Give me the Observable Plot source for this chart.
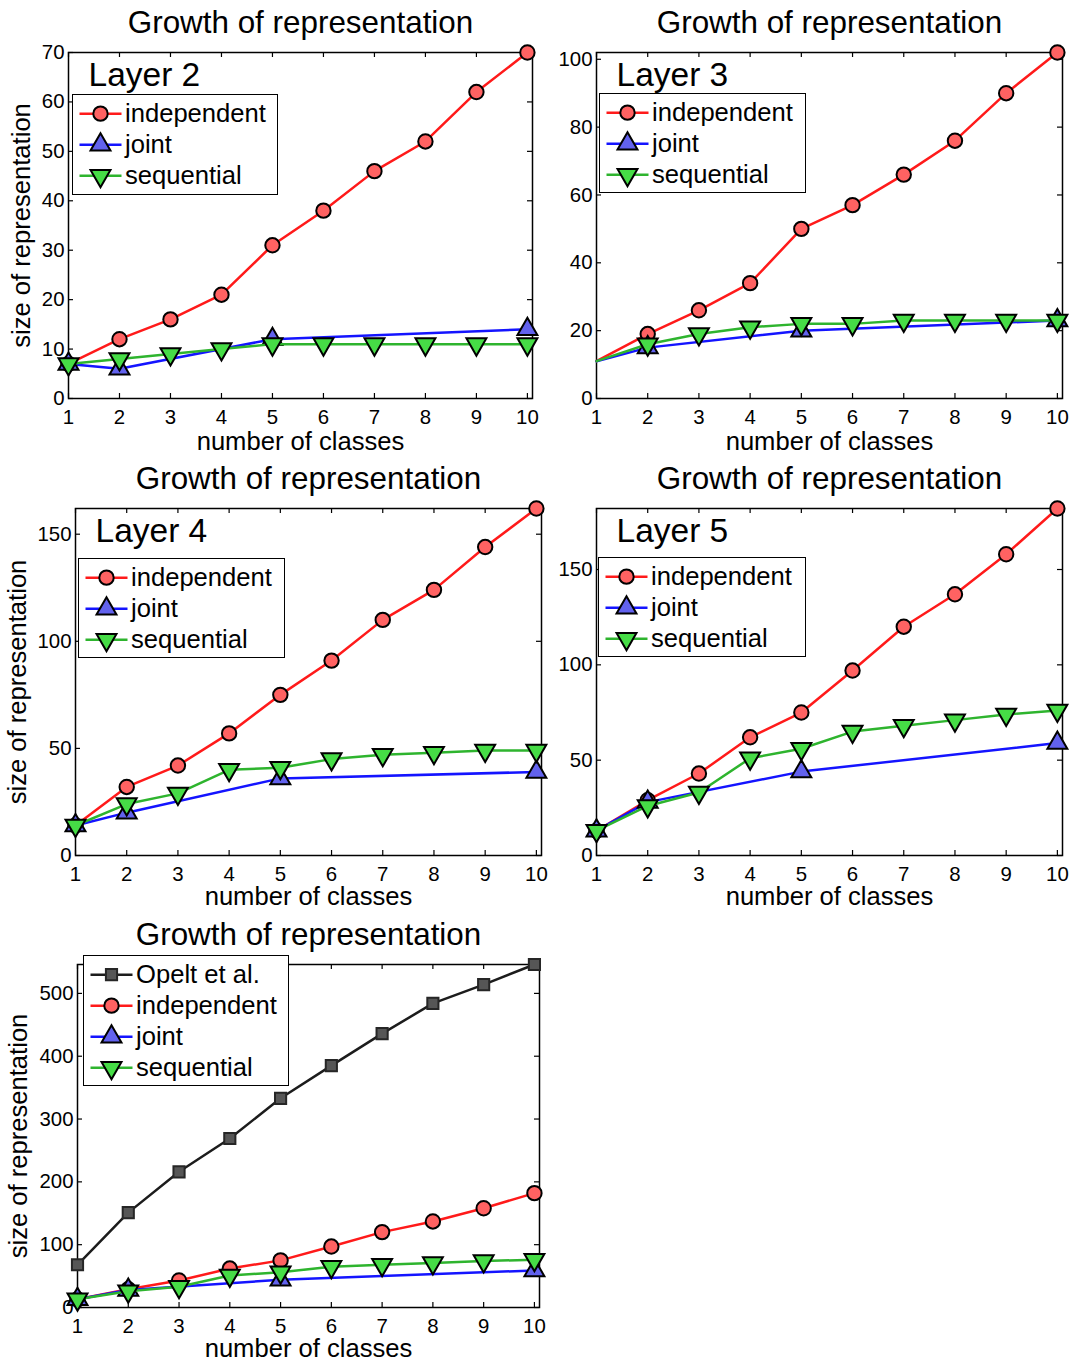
<!DOCTYPE html>
<html>
<head>
<meta charset="utf-8">
<script src="https://cdn.jsdelivr.net/npm/d3@7"></script>
<script src="https://cdn.jsdelivr.net/npm/@observablehq/plot@0.6"></script>
<style>
  body { margin: 0; background: #fff; }
  #figure { position: relative; width: 1071px; height: 1363px; font-family: "Liberation Sans", Arial, Helvetica, sans-serif; color: #000; }
  .panel { position: absolute; }
  .panel svg { overflow: visible; display: block; }
  .legend { position: absolute; box-sizing: border-box; border: 1.5px solid #000; background: #fff; padding-top: 2.5px; }
  .legend .row { display: flex; align-items: center; height: 31.3px; }
  .legend .row svg { flex: none; display: block; }
  .legend .row span { font-size: 25.6px; line-height: 31.3px; white-space: nowrap; }
</style>
</head>
<body>
<div id="figure"></div>
<script>
// x values: number of object classes
const classes = [1, 2, 3, 4, 5, 6, 7, 8, 9, 10];
// the joint model was only trained at these class counts
const jointClasses = [1, 2, 5, 10];

// Layer 2
const layer2Independent = [7, 12, 16, 21, 31, 38, 46, 52, 62, 70];
const layer2Joint = [7, 6, 12, 14];
const layer2Sequential = [7, 8, 9, 10, 11, 11, 11, 11, 11, 11];
// Layer 3
const layer3Independent = [11, 19, 26, 34, 50, 57, 66, 76, 90, 102];
const layer3Joint = [11, 15, 20, 23];
const layer3Sequential = [11, 16, 19, 21, 22, 22, 23, 23, 23, 23];
// Layer 4
const layer4Independent = [14, 32, 42, 57, 75, 91, 110, 124, 144, 162];
const layer4Joint = [14, 20, 36, 39];
const layer4Sequential = [14, 24, 29, 40, 41, 45, 47, 48, 49, 49];
// Layer 5 (top of the hierarchy)
const layer5Independent = [13, 29, 43, 62, 75, 97, 120, 137, 158, 182];
const layer5Joint = [13, 28, 44, 59];
const layer5Sequential = [13, 26, 33, 51, 56, 65, 68, 71, 74, 76];
// Opelt et al. boundary-fragment codebook size
const opeltEtAl = [68, 151, 216, 269, 333, 385, 436, 484, 514, 546];

// y tick labels of each panel
const layer2Ticks = [0, 10, 20, 30, 40, 50, 60, 70];
const layer3Ticks = [0, 20, 40, 60, 80, 100];
const layer4Ticks = [0, 50, 100, 150];
const layer5Ticks = [0, 50, 100, 150];
const comparisonTicks = [0, 100, 200, 300, 400, 500];

const titleText = "Growth of representation";
const xLabelText = "number of classes";
const yLabelText = "size of representation";

// marker shape pointing down (d3 only ships the upward triangle)
const triangleDown = {
  draw(context, size) {
    const y = -Math.sqrt(size / (Math.sqrt(3) * 3));
    context.moveTo(0, -y * 2);
    context.lineTo(Math.sqrt(3) * y, y);
    context.lineTo(-Math.sqrt(3) * y, y);
    context.closePath();
  }
};

const styles = {
  opelt:       {label: "Opelt et al.", line: "#1c1c1c", fill: "#565656", stroke: "#262626", symbol: d3.symbolSquare, plotSymbol: "square", r: 6.3},
  independent: {label: "independent",  line: "#ff1a1a", fill: "#ff6262", stroke: "#000",    symbol: d3.symbolCircle, plotSymbol: "circle", r: 7.2},
  joint:       {label: "joint",        line: "#1414ff", fill: "#6262ee", stroke: "#000",    symbol: d3.symbolTriangle, plotSymbol: "triangle", r: 7.4},
  sequential:  {label: "sequential",   line: "#2eb42e", fill: "#46dc46", stroke: "#000",    symbol: triangleDown, plotSymbol: triangleDown, r: 7.4}
};

const rows = (xs, ys) => xs.map((c, i) => ({c, v: ys[i]}));

const panels = [
  {box: [0, 0, 545, 455], margin: [52, 13, 57, 68], layer: "Layer 2", ticks: layer2Ticks, yLabelDx: -47, xLabelDy: 51,
   legend: [4, 42, 206, 101], markerFrom: 1,
   series: [["independent", rows(classes, layer2Independent)], ["joint", rows(jointClasses, layer2Joint)], ["sequential", rows(classes, layer2Sequential)]]},
  {box: [545, 0, 526, 455], margin: [52, 9, 57, 51], layer: "Layer 3", ticks: layer3Ticks, yLabelDx: null, xLabelDy: 51,
   legend: [3, 41, 207, 100], markerFrom: 2,
   series: [["independent", rows(classes, layer3Independent)], ["joint", rows(jointClasses, layer3Joint)], ["sequential", rows(classes, layer3Sequential)]]},
  {box: [0, 455, 545, 455], margin: [53, 4, 55, 75], layer: "Layer 4", ticks: layer4Ticks, yLabelDx: -58, xLabelDy: 49,
   legend: [3, 50, 207, 100], markerFrom: 1,
   series: [["independent", rows(classes, layer4Independent)], ["joint", rows(jointClasses, layer4Joint)], ["sequential", rows(classes, layer4Sequential)]]},
  {box: [545, 455, 526, 455], margin: [53, 9, 55, 51], layer: "Layer 5", ticks: layer5Ticks, yLabelDx: null, xLabelDy: 49,
   legend: [2, 49, 208, 100], markerFrom: 1,
   series: [["independent", rows(classes, layer5Independent)], ["joint", rows(jointClasses, layer5Joint)], ["sequential", rows(classes, layer5Sequential)]]},
  {box: [0, 910, 545, 453], margin: [54, 6, 56, 77], layer: null, ticks: comparisonTicks, yLabelDx: -59, xLabelDy: 49,
   legend: [6, -9, 206, 131], markerFrom: 1,
   series: [["opelt", rows(classes, opeltEtAl)], ["independent", rows(classes, layer5Independent)], ["joint", rows(jointClasses, layer5Joint)], ["sequential", rows(classes, layer5Sequential)]]}
];

const figure = document.getElementById("figure");

function legendSwatch(style) {
  const w = 52, h = 31.3, cy = h / 2;
  const svg = d3.create("svg").attr("width", w).attr("height", h);
  svg.append("line").attr("x1", 6.5).attr("x2", 48.5).attr("y1", cy).attr("y2", cy)
    .attr("stroke", style.line).attr("stroke-width", 2.5);
  svg.append("path")
    .attr("d", d3.symbol().type(style.symbol).size(Math.PI * style.r * style.r)())
    .attr("transform", `translate(27.5,${cy})`)
    .attr("fill", style.fill).attr("stroke", style.stroke).attr("stroke-width", 2);
  return svg.node();
}

for (const p of panels) {
  const [left, top, width, height] = p.box;
  const [mt, mr, mb, ml] = p.margin;
  const fw = width - ml - mr, fh = height - mt - mb;
  const yMax = d3.max(p.series, ([, data]) => d3.max(data, d => d.v));

  const marks = [
    Plot.frame({stroke: "#000", strokeWidth: 1.5}),
    // inward ticks on all four sides of the box
    Plot.ruleX(classes, {x: d => d, insetTop: fh - 5, stroke: "#000", strokeWidth: 1.2}),
    Plot.ruleX(classes, {x: d => d, insetBottom: fh - 5, stroke: "#000", strokeWidth: 1.2}),
    Plot.ruleY(p.ticks, {y: d => d, insetRight: fw - 5, stroke: "#000", strokeWidth: 1.2}),
    Plot.ruleY(p.ticks, {y: d => d, insetLeft: fw - 5, stroke: "#000", strokeWidth: 1.2}),
    Plot.axisX(classes, {tickSize: 0, tickPadding: 11, fontSize: 20.4, label: null, tickFormat: d => String(d)}),
    Plot.axisY(p.ticks, {tickSize: 0, tickPadding: 4, fontSize: 20.4, label: null, tickFormat: d => String(d)})
  ];

  for (const [key, data] of p.series) {
    const s = styles[key];
    marks.push(Plot.line(data, {x: "c", y: "v", stroke: s.line, strokeWidth: 2.5}));
    marks.push(Plot.dot(data.filter(d => d.c >= p.markerFrom), {
      x: "c", y: "v", symbol: s.plotSymbol, r: s.r, fill: s.fill, stroke: s.stroke, strokeWidth: 2
    }));
  }

  marks.push(Plot.text([titleText], {text: d => d, frameAnchor: "top", dy: -20, lineAnchor: "bottom", fontSize: 31.4}));
  marks.push(Plot.text([xLabelText], {text: d => d, frameAnchor: "bottom", dy: p.xLabelDy, lineAnchor: "bottom", fontSize: 25.6}));
  if (p.yLabelDx != null) {
    marks.push(Plot.text([yLabelText], {text: d => d, frameAnchor: "left", dx: p.yLabelDx, rotate: -90, textAnchor: "middle", lineAnchor: "middle", fontSize: 25.6}));
  }
  if (p.layer) {
    marks.push(Plot.text([p.layer], {text: d => d, frameAnchor: "top-left", dx: 20, dy: 33, textAnchor: "start", lineAnchor: "bottom", fontSize: 33.5}));
  }

  const chart = Plot.plot({
    width, height,
    marginTop: mt, marginRight: mr, marginBottom: mb, marginLeft: ml,
    style: {background: "none", overflow: "visible", fontFamily: '"Liberation Sans", Arial, Helvetica, sans-serif', fontSize: "20px", color: "#000"},
    x: {type: "linear", domain: [1, 10.1]},
    y: {type: "linear", domain: [0, yMax]},
    marks
  });

  const wrap = document.createElement("div");
  wrap.className = "panel";
  wrap.style.left = left + "px";
  wrap.style.top = top + "px";
  wrap.appendChild(chart);
  figure.appendChild(wrap);

  // legend box inside the axes, top-left corner
  const [lx, ly, lw, lh] = p.legend;
  const legend = document.createElement("div");
  legend.className = "legend";
  legend.style.left = (left + ml + lx) + "px";
  legend.style.top = (top + mt + ly) + "px";
  legend.style.width = lw + "px";
  legend.style.height = lh + "px";
  for (const [key] of p.series) {
    const row = document.createElement("div");
    row.className = "row";
    row.appendChild(legendSwatch(styles[key]));
    const label = document.createElement("span");
    label.textContent = styles[key].label;
    row.appendChild(label);
    legend.appendChild(row);
  }
  figure.appendChild(legend);
}
</script>
</body>
</html>
